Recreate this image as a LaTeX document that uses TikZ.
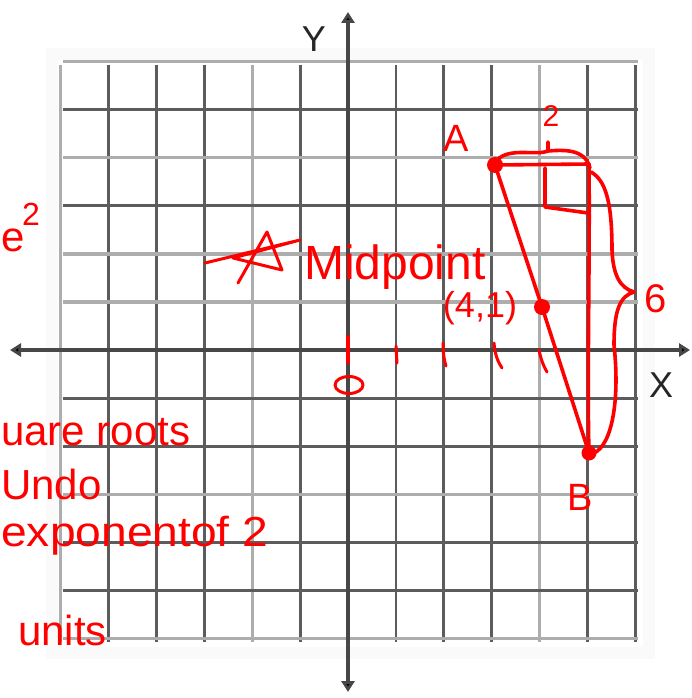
\documentclass[tikz,border=0pt]{standalone}
\usepackage{fontspec}
\setmainfont{Liberation Sans}
\usetikzlibrary{arrows.meta}
\begin{document}
\begin{tikzpicture}[x=1pt,y=-1pt,
 gridline/.style={line width=2.8pt, draw=black!64},
 gridlight/.style={line width=3.4pt, draw=black!32},
 axisline/.style={line width=4pt, draw=black!72, {Triangle[length=11pt,width=13pt,fill=black]}-{Triangle[length=11pt,width=13pt,fill=black]}},
 axislabel/.style={text=black!85, font=\fontsize{36}{36}\selectfont, inner sep=0pt},
 ink/.style={draw=red, line width=3.6pt, line cap=round, line join=round},
 inktext/.style={text=red, inner sep=0pt, font=\fontsize{42}{42}\selectfont},
 dot/.style={circle, fill=red, inner sep=0pt, minimum size=16pt}]
\useasboundingbox (0,0) rectangle (691,698);
\fill[white] (0,0) rectangle (691,698);
% faint halo around the grid
\draw[black!2, line width=12pt] (52,54) rectangle (649,653);
% grid
\foreach \i in {-5,-4,-3,-1,1,2,3,5,6} {\draw[gridline] ({348+47.9*\i},65) -- ({348+47.9*\i},642);}
\foreach \i in {-6,-2,4} {\draw[gridlight] ({348+47.9*\i},65) -- ({348+47.9*\i},642);}
\foreach \j in {-5,-3,1,2,4,5} {\draw[gridline] (63,{350+48.1*\j}) -- (638,{350+48.1*\j});}
\foreach \j in {-6,-4,-2,-1,3,6} {\draw[gridlight] (63,{350+48.1*\j}) -- (638,{350+48.1*\j});}
% axes
\coordinate (xl) at (10,350); \coordinate (xr) at (690,350);
\coordinate (yt) at (348,12); \coordinate (yb) at (348,692);
\draw[axisline] (xl) -- (xr);
\draw[axisline] (yb) -- (yt);
\node[axislabel] (ylab) at (314,39) {Y};
\node[axislabel] (xlab) at (661,385) {X};
% red construction
\node[dot] (A) at (495,165) {};
\node[dot] (M) at (542,307) {};
\node[dot, minimum size=15pt] (B) at (589,453) {};
\coordinate (C) at (589,164);
\draw[ink] (A.center) -- (M.center) -- (B.center);
\draw[ink] (A.center) -- (C);
\draw[ink] (C) .. controls (590,260) and (587,380) .. (B.center);
\draw[ink] (545,168) -- (545,207) -- (588,213);
% horizontal brace
\draw[ink] (497,160) .. controls (510,147) and (535,156) .. (548,151);
\draw[ink] (548,142) -- (548,151) .. controls (562,150) and (585,148) .. (590,168);
% vertical brace
\draw[ink] (591,172) .. controls (605,180) and (612,200) .. (612,250)
  .. controls (613,275) and (620,288) .. (634,292)
  .. controls (620,296) and (614,310) .. (614,345)
  .. controls (620,400) and (612,445) .. (594,453);
% ticks and origin
\draw[ink, line width=4.5pt] (348,337) -- (348,362);
\draw[ink, line width=3pt] (396,346) -- (397,363);
\draw[ink, line width=3pt] (443,343) .. controls (443,352) and (444,360) .. (446,366);
\draw[ink, line width=3pt] (494,343) .. controls (495,355) and (498,362) .. (502,368);
\draw[ink, line width=3pt] (539,350) .. controls (541,360) and (544,367) .. (547,372);
\draw[ink, line width=3pt] (349,385) ellipse (14 and 8.5);
% labels
\node[inktext, font=\fontsize{38}{38}\selectfont] (Alab) at (456,138) {A};
\node[inktext, font=\fontsize{38}{38}\selectfont] (Blab) at (580,497) {B};
\node[inktext, font=\fontsize{30}{30}\selectfont] (twolab) at (551,116) {2};
\node[inktext, font=\fontsize{40}{40}\selectfont] (sixlab) at (656,299) {6};
\node[inktext, font=\fontsize{36}{36}\selectfont] (mlab) at (480,308) {(4,1)};
\node[inktext, font=\fontsize{48}{48}\selectfont, anchor=base west] (mid) at (304,279) {Midpoint};
% star and arrow stroke
\draw[ink, line width=3pt] (205,263) -- (300,240) -- (233,258) -- (282,270) -- (267,232) -- (238,283);
% left notes
\node[inktext, anchor=base west] (e) at (1,251) {e};
\node[inktext, font=\fontsize{32}{32}\selectfont] (sq) at (31,214) {2};
\node[inktext, anchor=base west] (n1) at (1,445) {uare roots};
\node[inktext, anchor=base west] (n2) at (1,499) {Undo};
\node[inktext, anchor=base west, xscale=1.1] (n3) at (1,546) {exponentof 2};
\node[inktext, anchor=base west] (n4) at (18,645) {units};
\end{tikzpicture}
\end{document}
